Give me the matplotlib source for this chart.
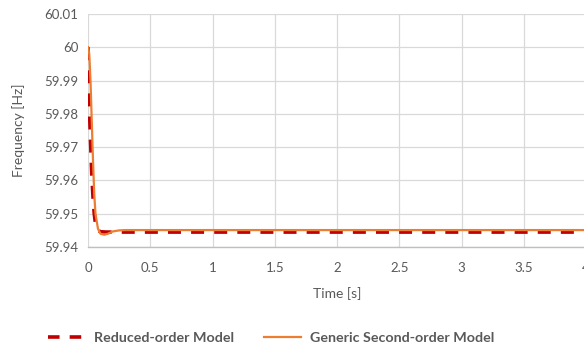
import matplotlib
matplotlib.use("Agg")
import matplotlib.pyplot as plt
from matplotlib.ticker import FuncFormatter, MultipleLocator
from matplotlib.lines import Line2D

# ── data ──────────────────────────────────────────────────────────────────────
t_red = [0, 0.005, 0.01, 0.02, 0.03, 0.04, 0.05, 0.06, 0.08, 0.1, 0.15, 4.0]
f_red = [60.0, 59.99, 59.983, 59.972, 59.962, 59.955, 59.950, 59.947,
         59.9450, 59.9446, 59.9445, 59.9445]

t_org = [0, 0.01, 0.02, 0.03, 0.04, 0.05, 0.06, 0.08, 0.1, 0.13, 0.16,
         0.2, 0.25, 0.3, 4.0]
f_org = [60.0, 59.998, 59.99, 59.978, 59.966, 59.956, 59.950, 59.9455,
         59.944, 59.9437, 59.9440, 59.9447, 59.9450, 59.9451, 59.9451]

RED = "#c00000"
ORG = "#ed7d31"
GREY = "#595959"
FONT = ["Lato", "DejaVu Sans"]

fig = plt.figure(figsize=(5.84, 3.47), dpi=100)
ax = fig.add_axes([0.1507, 0.288, 0.853, 0.672])

ax.plot(t_red, f_red, color=RED, lw=2.6, dashes=(3.6, 2.8), zorder=3)
ax.plot(t_org, f_org, color=ORG, lw=1.6, zorder=4)

ax.set_xlim(0, 4)
ax.set_ylim(59.94, 60.01)
ax.xaxis.set_major_locator(MultipleLocator(0.5))
ax.yaxis.set_major_locator(MultipleLocator(0.01))
ax.xaxis.set_major_formatter(FuncFormatter(lambda v, p: f"{v:g}"))
ax.yaxis.set_major_formatter(FuncFormatter(lambda v, p: f"{round(v, 2):g}"))

ax.grid(True, color="#d9d9d9", lw=0.9)
ax.set_axisbelow(True)
for s in ["top", "right", "left"]:
    ax.spines[s].set_visible(False)
ax.spines["bottom"].set_color("#bfbfbf")
ax.spines["bottom"].set_linewidth(1.0)
ax.tick_params(length=0, labelsize=9.5, labelcolor=GREY)
ax.tick_params(axis="x", pad=11)
ax.tick_params(axis="y", pad=7)
for lab in ax.get_xticklabels() + ax.get_yticklabels():
    lab.set_family(FONT)

ax.set_xlabel("Time [s]", fontsize=10, color=GREY, family=FONT, labelpad=9)
ax.set_ylabel("Frequency [Hz]", fontsize=10, color=GREY, family=FONT, labelpad=14)

handles = [Line2D([], [], color=RED, lw=2.6, dashes=(3.2, 2.8)),
           Line2D([], [], color=ORG, lw=1.6)]
fig.legend(handles, ["Reduced-order Model", "Generic Second-order Model"],
           loc="center", bbox_to_anchor=(0.464, 0.025), ncol=2, frameon=False,
           handlelength=2.6, handletextpad=0.6, columnspacing=2.1,
           prop=dict(family=FONT, size=10.3, weight="bold"), labelcolor=GREY)

fig.savefig("out.png", dpi=100)
